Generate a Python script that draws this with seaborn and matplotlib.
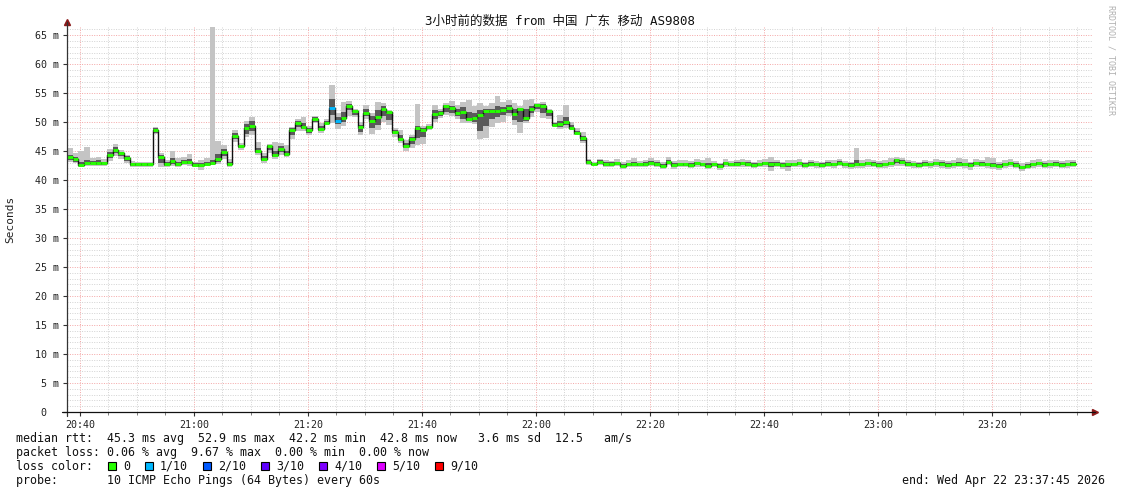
import numpy as np
import pandas as pd
import seaborn as sns
import matplotlib.pyplot as plt
import matplotlib.ticker as ticker
from matplotlib.patches import Rectangle

# one value per minute, first minute starts 20:37:45
start_clock = 20 * 60 + 37.75

median_rtt = [
    43.9, 43.6, 42.6, 43.0, 43.0, 42.9, 42.9, 44.3, 45.2, 44.7,
    43.8, 42.8, 42.8, 42.7, 42.8, 48.6, 44.0, 42.8, 43.3, 42.8,
    43.1, 43.1, 42.6, 42.6, 42.8, 42.9, 43.6, 44.8, 42.8, 47.6,
    45.9, 48.9, 49.3, 45.0, 43.6, 45.9, 44.3, 45.3, 44.5, 48.6,
    49.8, 49.1, 48.6, 50.5, 48.8, 49.8, 52.5, 50.2, 50.7, 52.8,
    51.9, 49.1, 51.6, 50.2, 50.9, 52.2, 51.7, 48.3, 47.1, 45.9,
    47.1, 49.0, 48.7, 49.1, 51.4, 51.6, 52.8, 52.4, 51.6, 51.7,
    50.6, 50.7, 51.2, 51.9, 51.9, 51.9, 52.1, 52.4, 51.4, 52.2,
    50.7, 52.2, 52.9, 52.8, 51.9, 49.5, 49.7, 50.0, 49.0, 48.1,
    47.2, 43.1, 42.8, 43.1, 42.8, 42.8, 42.9, 42.5, 42.7, 42.7,
    42.7, 42.8, 43.0, 42.8, 42.5, 43.1, 42.6, 42.7, 42.7, 42.6,
    42.9, 42.7, 42.5, 42.7, 42.4, 42.9, 42.7, 42.8, 42.9, 42.8,
    42.6, 42.7, 42.9, 42.7, 42.8, 42.6, 42.7, 42.7, 42.9, 42.6,
    42.8, 42.7, 42.6, 42.8, 42.7, 43.0, 42.7, 42.6, 42.8, 42.7,
    42.9, 42.8, 42.6, 42.7, 42.9, 43.4, 43.1, 42.8, 42.7, 42.6,
    42.8, 42.7, 42.9, 42.8, 42.6, 42.7, 42.8, 42.7, 42.6, 42.9,
    42.8, 42.7, 42.6, 42.5, 42.7, 42.9, 42.6, 42.2, 42.5, 42.7,
    42.9, 42.6, 42.7, 42.8, 42.6, 42.7, 42.8,
]

ping_min = [
    43.2, 42.9, 42.3, 42.4, 42.5, 42.4, 42.4, 43.3, 44.2, 43.7,
    43.0, 42.2, 42.3, 42.2, 42.3, 48.0, 42.2, 42.2, 42.4, 42.3,
    42.6, 42.4, 42.3, 41.8, 42.5, 42.6, 42.8, 43.7, 42.3, 46.5,
    45.2, 47.4, 47.7, 44.3, 43.0, 44.6, 43.7, 44.4, 43.9, 47.0,
    48.5, 48.5, 47.8, 49.8, 48.2, 49.5, 49.9, 48.8, 49.4, 51.0,
    50.8, 47.7, 50.6, 47.9, 48.7, 50.1, 49.5, 47.5, 46.4, 45.1,
    45.6, 46.0, 46.3, 48.6, 50.0, 50.7, 51.3, 51.0, 50.5, 49.8,
    49.9, 49.6, 47.0, 47.3, 49.2, 49.8, 50.1, 51.0, 49.5, 48.2,
    49.8, 50.8, 51.8, 50.7, 50.5, 49.1, 48.8, 49.0, 48.6, 47.8,
    46.4, 42.6, 42.4, 42.6, 42.3, 42.3, 42.4, 41.9, 42.2, 42.2,
    42.2, 42.2, 42.5, 42.3, 41.9, 42.6, 41.9, 42.2, 42.2, 42.1,
    42.3, 42.2, 41.9, 42.2, 41.8, 42.3, 42.2, 42.3, 42.3, 42.2,
    42.0, 42.2, 42.3, 41.6, 42.2, 41.9, 41.6, 42.2, 42.3, 42.0,
    42.2, 42.1, 42.0, 42.2, 42.1, 42.4, 42.1, 41.9, 42.1, 42.1,
    42.3, 42.2, 42.0, 42.1, 42.3, 42.5, 42.4, 42.2, 42.0, 42.0,
    42.2, 42.0, 42.3, 42.1, 41.9, 42.1, 42.2, 42.0, 41.8, 42.2,
    42.2, 42.0, 41.9, 41.8, 42.1, 42.3, 42.0, 41.6, 41.9, 42.1,
    42.3, 42.0, 42.1, 42.2, 42.0, 42.1, 42.2,
]

ping_max = [
    45.6, 44.6, 45.1, 45.7, 43.8, 43.9, 43.6, 45.3, 46.2, 45.2,
    44.4, 43.3, 43.2, 43.2, 43.2, 49.1, 44.6, 43.4, 45.0, 43.8,
    43.9, 44.5, 43.2, 43.5, 43.8, 66.4, 46.7, 46.0, 43.6, 48.6,
    46.4, 50.2, 50.9, 46.6, 44.7, 46.3, 46.5, 46.4, 46.1, 49.2,
    50.5, 50.8, 49.4, 51.0, 49.8, 50.5, 56.4, 51.5, 53.4, 53.6,
    52.3, 50.0, 52.9, 51.5, 53.5, 53.3, 52.0, 48.9, 48.6, 46.9,
    47.8, 53.2, 49.4, 49.6, 53.0, 52.3, 53.3, 53.6, 53.0, 53.5,
    53.8, 52.7, 53.3, 52.8, 53.3, 54.5, 53.5, 53.8, 53.3, 52.8,
    53.8, 54.0, 53.3, 53.5, 52.3, 50.1, 51.3, 52.9, 50.0, 48.9,
    48.3, 43.7, 43.2, 43.7, 43.4, 43.3, 43.6, 43.1, 43.5, 43.8,
    43.3, 43.4, 43.8, 43.4, 43.2, 43.9, 43.3, 43.4, 43.5, 43.3,
    43.7, 43.4, 43.8, 43.3, 43.0, 43.6, 43.3, 43.5, 43.7, 43.4,
    43.2, 43.4, 43.6, 44.0, 43.4, 43.2, 43.5, 43.4, 43.7, 43.2,
    43.4, 43.3, 43.2, 43.5, 43.4, 43.7, 43.3, 43.2, 45.6, 43.4,
    43.6, 43.4, 43.3, 43.4, 43.8, 44.0, 43.8, 43.4, 43.3, 43.2,
    43.5, 43.3, 43.6, 43.5, 43.3, 43.4, 43.8, 43.6, 43.2, 43.6,
    43.4, 43.9, 43.8, 43.2, 43.4, 43.7, 43.3, 43.0, 43.2, 43.4,
    43.6, 43.3, 43.4, 43.5, 43.3, 43.4, 43.5,
]

# inner (darker) part of the smoke
smoke_lo = [
    43.5, 43.2, 42.4, 42.6, 42.7, 42.6, 42.6, 43.8, 44.7, 44.2,
    43.3, 42.5, 42.5, 42.4, 42.5, 48.2, 42.9, 42.5, 42.8, 42.5,
    42.8, 42.7, 42.4, 42.3, 42.6, 42.7, 43.2, 44.2, 42.5, 47.0,
    45.5, 48.0, 48.5, 44.6, 43.3, 45.2, 44.0, 44.8, 44.1, 47.8,
    49.2, 48.8, 48.2, 50.1, 48.5, 49.6, 51.2, 49.6, 50.0, 52.0,
    51.2, 48.3, 51.0, 48.9, 49.5, 51.0, 50.4, 47.9, 46.8, 45.5,
    46.2, 47.2, 47.4, 48.8, 50.6, 51.1, 51.8, 51.5, 51.0, 50.6,
    50.2, 50.1, 48.4, 49.3, 50.5, 50.8, 51.2, 51.6, 50.4, 50.0,
    50.2, 51.5, 52.3, 51.6, 51.0, 49.3, 49.2, 49.5, 48.8, 48.0,
    46.8, 42.8, 42.6, 42.8, 42.5, 42.5, 42.6, 42.2, 42.4, 42.4,
    42.4, 42.5, 42.7, 42.5, 42.2, 42.8, 42.3, 42.4, 42.4, 42.3,
    42.6, 42.4, 42.2, 42.4, 42.1, 42.6, 42.4, 42.5, 42.6, 42.5,
    42.3, 42.4, 42.6, 42.3, 42.5, 42.3, 42.3, 42.4, 42.6, 42.3,
    42.5, 42.4, 42.3, 42.5, 42.4, 42.7, 42.4, 42.3, 42.5, 42.4,
    42.6, 42.5, 42.3, 42.4, 42.6, 42.9, 42.8, 42.5, 42.4, 42.3,
    42.5, 42.4, 42.6, 42.5, 42.3, 42.4, 42.5, 42.4, 42.3, 42.6,
    42.5, 42.4, 42.3, 42.2, 42.4, 42.6, 42.3, 41.9, 42.2, 42.4,
    42.6, 42.3, 42.4, 42.5, 42.3, 42.4, 42.5,
]

smoke_hi = [
    44.3, 44.0, 43.1, 43.4, 43.3, 43.4, 43.2, 44.8, 45.7, 44.9,
    44.1, 43.0, 43.0, 42.9, 43.0, 48.9, 44.3, 43.1, 43.8, 43.2,
    43.5, 43.6, 42.9, 43.0, 43.2, 43.4, 44.5, 45.3, 43.1, 48.2,
    46.1, 49.6, 50.2, 45.6, 44.1, 46.1, 45.0, 45.8, 45.0, 48.9,
    50.2, 49.8, 49.0, 50.8, 49.3, 50.2, 54.0, 50.8, 51.7, 53.2,
    52.1, 49.5, 52.2, 51.0, 52.0, 52.7, 51.9, 48.6, 47.8, 46.4,
    47.5, 49.3, 48.9, 49.4, 52.0, 51.9, 53.0, 52.8, 52.2, 52.6,
    51.8, 51.6, 52.0, 52.2, 52.3, 52.8, 52.6, 52.9, 52.2, 52.5,
    52.3, 52.8, 53.1, 53.1, 52.1, 49.8, 50.2, 50.8, 49.5, 48.5,
    47.6, 43.4, 43.0, 43.4, 43.1, 43.1, 43.2, 42.8, 43.0, 43.1,
    43.0, 43.1, 43.3, 43.1, 42.8, 43.4, 42.9, 43.0, 43.0, 42.9,
    43.2, 43.0, 42.9, 43.0, 42.7, 43.2, 43.0, 43.1, 43.2, 43.1,
    42.9, 43.0, 43.2, 43.2, 43.1, 42.9, 43.0, 43.0, 43.2, 42.9,
    43.1, 43.0, 42.9, 43.1, 43.0, 43.3, 43.0, 42.9, 43.4, 43.0,
    43.2, 43.1, 42.9, 43.0, 43.2, 43.7, 43.4, 43.1, 43.0, 42.9,
    43.1, 43.0, 43.2, 43.1, 42.9, 43.0, 43.1, 43.0, 42.9, 43.2,
    43.1, 43.0, 42.9, 42.8, 43.0, 43.2, 42.9, 42.5, 42.8, 43.0,
    43.2, 42.9, 43.0, 43.1, 42.9, 43.0, 43.1,
]

# lost pings out of 10 per minute
loss = [0] * 46 + [1, 1] + [0] * 129

loss_labels = ['0', '1/10', '2/10', '3/10', '4/10', '5/10', '9/10']
loss_values = [0, 1, 2, 3, 4, 5, 9]
loss_colors = ['#26ff00', '#00b8ff', '#0059ff', '#5e00ff', '#7e00ff', '#dd00ff', '#ff0000']

title = '3小时前的数据 from 中国 广东 移动 AS9808'
stats_lines = [
    'median rtt:  45.3 ms avg  52.9 ms max  42.2 ms min  42.8 ms now   3.6 ms sd  12.5   am/s',
    'packet loss: 0.06 % avg  9.67 % max  0.00 % min  0.00 % now',
]
probe_text = 'probe:       10 ICMP Echo Pings (64 Bytes) every 60s'
end_text = 'end: Wed Apr 22 23:37:45 2026'

n = len(median_rtt)
assert all(len(a) == n for a in (ping_min, ping_max, smoke_lo, smoke_hi, loss))

df = pd.DataFrame({
    'minute': np.arange(n + 1),
    'median': median_rtt + median_rtt[-1:],
    'lo': ping_min + ping_min[-1:],
    'hi': ping_max + ping_max[-1:],
    'qlo': smoke_lo + smoke_lo[-1:],
    'qhi': smoke_hi + smoke_hi[-1:],
})

sns.set_theme(style='white')
plt.rcParams['font.family'] = ['DejaVu Sans Mono', 'Noto Sans CJK SC']

W, H = 1121, 494
fig = plt.figure(figsize=(W / 100, H / 100), dpi=100)
ax = fig.add_axes([67 / W, (H - 412) / H, (1093 - 67) / W, (412 - 27) / H])

# smoke
ax.fill_between(df['minute'], df['lo'], df['hi'], step='post', color='#c4c4c4', lw=0, zorder=2)
ax.fill_between(df['minute'], df['qlo'], df['qhi'], step='post', color='#5a5a5a', lw=0, zorder=3)

# median line + loss coloured bars
sns.lineplot(data=df, x='minute', y='median', drawstyle='steps-post', color='#111111',
             lw=1.0, ax=ax, zorder=4)
color_of = dict(zip(loss_values, loss_colors))
bars = ax.hlines(median_rtt, df['minute'][:-1], df['minute'][1:],
                 colors=[color_of[l] for l in loss], lw=2.1, zorder=5)
bars.set_capstyle('butt')

ax.set_xlim(0, 180)
ax.set_ylim(0, 66.4)

ax.yaxis.set_minor_locator(ticker.MultipleLocator(1))
ax.set_yticks(range(0, 66, 5))
ax.set_yticklabels(['0  '] + [f'{v} m' for v in range(5, 66, 5)])

first_tick = 2.25
ax.xaxis.set_major_locator(ticker.FixedLocator(np.arange(first_tick, 180, 20)))
ax.xaxis.set_minor_locator(ticker.FixedLocator(np.arange(first_tick, 180, 5)))
ax.xaxis.set_major_formatter(ticker.FuncFormatter(
    lambda m, _: f'{int((start_clock + m) // 60):02d}:{int(round(start_clock + m) % 60):02d}'))

ax.grid(which='minor', color='#d2d2d2', ls=(0, (1, 1.5)), lw=0.7)
ax.grid(which='major', color='#f4a6a6', ls=(0, (1, 1.5)), lw=0.7)
ax.set_axisbelow(True)

for s in ax.spines.values():
    s.set_visible(False)

ax.tick_params(axis='both', which='major', direction='out', length=3, width=0.8,
               color='#333333', labelsize=7.2, labelcolor='#222222', pad=2.5,
               left=True, bottom=True)
ax.tick_params(axis='x', which='minor', direction='out', length=2, width=0.6,
               color='#666666', bottom=True)
ax.tick_params(axis='y', which='minor', left=False)
ax.set_xlabel('')
ax.set_ylabel('')

# axis lines with arrows
ax.plot([0, 0], [-0.01, 1.013], transform=ax.transAxes, color='#333333', lw=0.9,
        clip_on=False, zorder=6)
ax.plot([-0.005, 1.002], [0, 0], transform=ax.transAxes, color='#111111', lw=0.9,
        clip_on=False, zorder=6)
ax.plot(0, 1.013, marker='^', ms=5, color='#8b1a1a', transform=ax.transAxes, clip_on=False)
ax.plot(1.002, 0, marker='>', ms=5, color='#8b1a1a', transform=ax.transAxes, clip_on=False)

fig.text(560 / W, 1 - 21 / H, title, ha='center', va='center', fontsize=9.0, color='#111111')
fig.text(10 / W, 1 - 219.5 / H, 'Seconds', rotation=90, ha='center', va='center',
         fontsize=8, color='#222222')
fig.text(1111 / W, 1 - 5 / H, 'RRDTOOL / TOBI OETIKER', rotation=-90, ha='center', va='top',
         fontsize=6, color='#b0b0b0')

# legend block
fs = 8.4
fig.text(16 / W, 1 - 438 / H, stats_lines[0], ha='left', va='center', fontsize=fs, color='#111111')
fig.text(16 / W, 1 - 452 / H, stats_lines[1], ha='left', va='center', fontsize=fs, color='#111111')
fig.text(16 / W, 1 - 466 / H, 'loss color:', ha='left', va='center', fontsize=fs, color='#111111')
box_x = [108, 145, 203, 261, 319, 377, 435]
for bx, lab, col in zip(box_x, loss_labels, loss_colors):
    fig.patches.append(Rectangle((bx / W, 1 - 470 / H), 8 / W, 8 / H, transform=fig.transFigure,
                                 facecolor=col, edgecolor='black', lw=0.8))
    fig.text((bx + 15) / W, 1 - 466 / H, lab, ha='left', va='center', fontsize=fs, color='#111111')
fig.text(16 / W, 1 - 480 / H, probe_text, ha='left', va='center', fontsize=fs, color='#111111')
fig.text(1105 / W, 1 - 480 / H, end_text, ha='right', va='center', fontsize=fs, color='#111111')

fig.savefig('out.png', dpi=100)
